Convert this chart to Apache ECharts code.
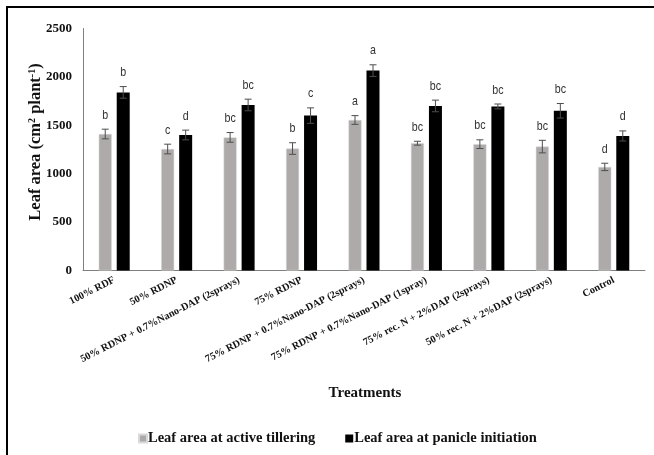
<!DOCTYPE html>
<html>
<head>
<meta charset="utf-8">
<script src="https://cdn.jsdelivr.net/npm/echarts@6/dist/echarts.min.js"></script>
<style>
  html, body { margin: 0; padding: 0; background: #fff; }
  #chart { width: 654px; height: 455px; }
</style>
</head>
<body>
<div id="chart"></div>
<script>
// Treatments on the category axis
const treatments = [
  '100% RDF',
  '50% RDNP',
  '50% RDNP + 0.7%Nano-DAP (2sprays)',
  '75% RDNP',
  '75% RDNP + 0.7%Nano-DAP (2sprays)',
  '75% RDNP + 0.7%Nano-DAP (1spray)',
  '75% rec. N + 2%DAP (2sprays)',
  '50% rec. N + 2%DAP (2sprays)',
  'Control'
];

// Leaf area (cm² plant⁻¹) at active tillering
const tilleringMean = [1410, 1255, 1375, 1260, 1555, 1315, 1305, 1280, 1070];
const tilleringErr  = [50, 50, 50, 60, 45, 20, 45, 65, 38];
const tilleringSig  = ['b', 'c', 'bc', 'b', 'a', 'bc', 'bc', 'bc', 'd'];

// Leaf area (cm² plant⁻¹) at panicle initiation
const panicleMean = [1840, 1400, 1710, 1600, 2065, 1700, 1695, 1650, 1390];
const panicleErr  = [60, 50, 60, 80, 60, 60, 25, 75, 52];
const panicleSig  = ['b', 'd', 'bc', 'c', 'a', 'bc', 'bc', 'bc', 'd'];

const yTicks = [0, 500, 1000, 1500, 2000, 2500];

const serif = "'Liberation Serif', 'Times New Roman', serif";
const sans = "'Liberation Sans Narrow', 'Liberation Sans', Arial, sans-serif";

const BAR_W = 13;
const BAR_GAP = 5;
const HALF_STEP = (BAR_W + BAR_GAP) / 2;

// Error bar with caps and a significance letter, shifted onto its bar
function errorItem(means, errs, letters, shift) {
  return function (params, api) {
    const i = api.value(0);
    const m = means[i], e = errs[i];
    const top = api.coord([i, m + e]);
    const bot = api.coord([i, m - e]);
    const x = top[0] + shift;
    const cap = 3.5;
    const stroke = { stroke: '#4d4d4d', lineWidth: 1 };
    return {
      type: 'group',
      children: [
        { type: 'line', shape: { x1: x, y1: top[1], x2: x, y2: bot[1] }, style: stroke },
        { type: 'line', shape: { x1: x - cap, y1: top[1], x2: x + cap, y2: top[1] }, style: stroke },
        { type: 'line', shape: { x1: x - cap, y1: bot[1], x2: x + cap, y2: bot[1] }, style: stroke },
        {
          type: 'text',
          x: x,
          y: top[1] - 14,
          scaleX: 0.82,
          style: {
            text: letters[i], x: 0, y: 0,
            align: 'center', verticalAlign: 'middle',
            font: '13px ' + sans, fill: '#333'
          }
        }
      ]
    };
  };
}

const chart = echarts.init(document.getElementById('chart'), null, { renderer: 'canvas' });

chart.setOption({
  animation: false,
  backgroundColor: '#fff',
  graphic: [
    {
      type: 'rect',
      shape: { x: 7, y: 7, width: 700, height: 500 },
      style: { fill: 'none', stroke: '#000', lineWidth: 2 },
      z: 100
    },
    {
      type: 'text',
      x: 36,
      y: 142,
      rotation: Math.PI / 2,
      style: {
        text: '{n|Leaf area (cm}{s|2}{n| plant}{s|-1}{n|)}',
        x: 0, y: 0,
        align: 'center', verticalAlign: 'middle',
        rich: {
          n: { fontFamily: serif, fontWeight: 'bold', fontSize: 16.5, fill: '#111' },
          s: { fontFamily: serif, fontWeight: 'bold', fontSize: 10, fill: '#111', verticalAlign: 'top', padding: [0, 0, 8, 0] }
        }
      }
    },
    {
      type: 'text',
      style: {
        text: 'Treatments', x: 365, y: 393,
        align: 'center', verticalAlign: 'middle',
        font: 'bold 15px ' + serif, fill: '#111'
      }
    }
  ],
  grid: { left: 83, right: 9, top: 28.5, bottom: 184.5 },
  legend: {
    top: 426,
    left: 133,
    itemWidth: 8,
    itemHeight: 8,
    itemGap: 30,
    icon: 'rect',
    textStyle: { fontFamily: serif, fontWeight: 'bold', fontSize: 14.5, color: '#111', padding: [0, 0, 0, -4] },
    data: ['Leaf area at active tillering', 'Leaf area at panicle initiation']
  },
  xAxis: {
    type: 'category',
    data: treatments,
    axisLine: { lineStyle: { color: '#7f7f7f', width: 1 } },
    axisTick: { show: false },
    axisLabel: {
      interval: 0,
      rotate: 27,
      margin: 9,
      fontFamily: serif,
      fontWeight: 'bold',
      fontSize: 10.3,
      color: '#111'
    }
  },
  yAxis: {
    type: 'value',
    min: 0,
    max: 2500,
    interval: 500,
    axisLine: { show: true, lineStyle: { color: '#7f7f7f', width: 1 } },
    axisTick: { show: false },
    splitLine: { show: false },
    axisLabel: {
      margin: 11,
      fontFamily: serif,
      fontWeight: 'bold',
      fontSize: 13,
      color: '#111',
      formatter: v => (yTicks.indexOf(v) >= 0 ? String(v) : '')
    }
  },
  series: [
    {
      name: 'Leaf area at active tillering',
      type: 'bar',
      data: tilleringMean,
      barWidth: BAR_W,
      barGap: (BAR_GAP / BAR_W * 100) + '%',
      itemStyle: { color: '#aeaaaa', borderColor: '#d9d9d9', borderWidth: 0.5 }
    },
    {
      name: 'Leaf area at panicle initiation',
      type: 'bar',
      data: panicleMean,
      barWidth: BAR_W,
      barGap: (BAR_GAP / BAR_W * 100) + '%',
      itemStyle: { color: '#000000' }
    },
    {
      type: 'custom',
      data: tilleringMean.map((v, i) => [i, v]),
      renderItem: errorItem(tilleringMean, tilleringErr, tilleringSig, -HALF_STEP),
      z: 5,
      silent: true
    },
    {
      type: 'custom',
      data: panicleMean.map((v, i) => [i, v]),
      renderItem: errorItem(panicleMean, panicleErr, panicleSig, HALF_STEP),
      z: 5,
      silent: true
    }
  ]
});
</script>
</body>
</html>
